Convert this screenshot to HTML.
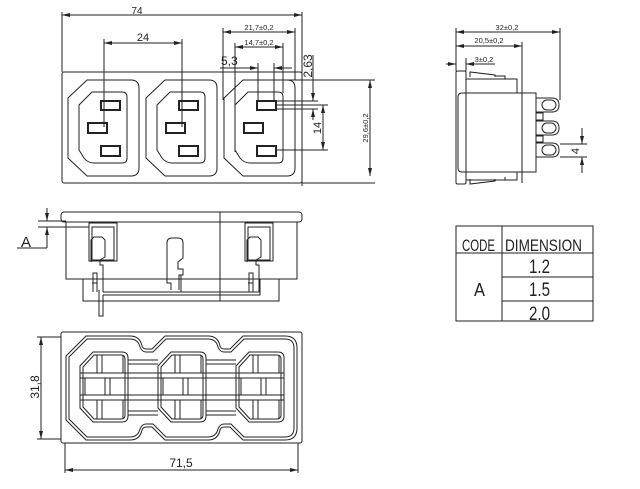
<!DOCTYPE html>
<html><head><meta charset="utf-8"><style>
html,body{margin:0;padding:0;background:#fff;}
svg{display:block;}
text{font-family:"Liberation Sans",sans-serif;fill:#222;}
</style></head><body>
<svg width="640" height="489" viewBox="0 0 640 489" xmlns="http://www.w3.org/2000/svg">
<defs>
<marker id="a" viewBox="0 0 8 4" refX="8" refY="2" markerWidth="8" markerHeight="4" orient="auto-start-reverse" markerUnits="userSpaceOnUse"><path d="M0,0 L8,2 L0,4 z" fill="#222"/></marker>
<g id="sock">
<path d="M0,98 L19,80 L63,80 Q71,80 71,88 L71,168 Q71,176 63,176 L19,176 L0,158 Z"/>
<path d="M11,105 L24,92 L54,92 Q59,92 59,97 L59,158 Q59,163 54,163 L26,163 Q20,163 16,158 L11,150 Z"/>
<rect x="33" y="101" width="19" height="9" stroke-width="2"/>
<rect x="20" y="123" width="19" height="10" stroke-width="2"/>
<rect x="33" y="146" width="19" height="10" stroke-width="2"/>
</g>
<g id="bsock">
<path d="M0,366 L13,352 L42,352 Q48,352 48,358 L48,416 Q48,422 42,422 L13,422 L0,408 Z"/>
<path d="M3,367 L14,355 L41,355 Q45,355 45,359 L45,415 Q45,419 41,419 L14,419 L3,407 Z"/>
<path d="M17,355 V373 M22,355 V373 M43,355 V373 M17,400 V419 M22,400 V419 M43,400 V419 M5,378 V395 M25,378 V395 M30,378 V395 M45,378 V395"/>
</g>
<g id="term">
<rect x="89" y="223" width="28" height="38"/>
<rect x="92" y="227" width="22" height="33"/>
<path d="M91,262 L91,240 L94,237 L102,237 L105,240 L105,257 L100,260 L100,265 L103,265 L103,292"/>
<path d="M93,292 L93,273 L97,273 L97,292 M92,283 H97"/>
</g>
</defs>

<g fill="none" stroke="#222" stroke-width="1">
<!-- FRONT VIEW -->
<rect x="62" y="72" width="240" height="111" rx="2"/>
<use href="#sock" x="68"/>
<use href="#sock" x="146"/>
<use href="#sock" x="224"/>
<!-- 74 -->
<path d="M62,12 V72 M302,12 V186"/>
<path d="M62,15 H302" marker-start="url(#a)" marker-end="url(#a)"/>
<!-- 24 -->
<path d="M104,39 V127 M182,39 V127"/>
<path d="M104,43 H182" marker-start="url(#a)" marker-end="url(#a)"/>
<!-- 21.7 -->
<path d="M223,28 V100 M295,28 V80"/>
<path d="M223,32 H295" marker-start="url(#a)" marker-end="url(#a)"/>
<!-- 14.7 -->
<path d="M235,43 V152 M283,43 V93"/>
<path d="M235,47 H283" marker-start="url(#a)" marker-end="url(#a)"/>
<!-- 5.3 -->
<path d="M258,63 V101 M274,63 V101"/>
<path d="M220,68 H258" marker-end="url(#a)"/>
<path d="M292,68 H274" marker-end="url(#a)"/>
<!-- right extensions -->
<path d="M287,80 H375 M302,183 H375"/>
<path d="M370,80 V176" marker-start="url(#a)" marker-end="url(#a)"/>
<path d="M276,101 H318 M276,105 H328 M276,109 H318 M276,150 H328"/>
<path d="M313,55 V101" marker-end="url(#a)"/>
<path d="M313,120 V109" marker-end="url(#a)"/>
<path d="M323,105 V150" marker-start="url(#a)" marker-end="url(#a)"/>

<!-- RIGHT SIDE VIEW -->
<path d="M456,28 V71 M466,58 V71 M522,42 V183 M560,28 V100"/>
<path d="M456,32 H560" marker-start="url(#a)" marker-end="url(#a)"/>
<path d="M456,46 H522" marker-start="url(#a)" marker-end="url(#a)"/>
<path d="M446,64 H456" marker-end="url(#a)"/>
<path d="M495,64 H466" marker-end="url(#a)"/>
<rect x="456" y="71" width="10" height="113" rx="1.5"/>
<path d="M470,77 L470,72 L495,75 L495,77 M495,76 H505 V79"/>
<path d="M470,179 L470,184 L495,181 L495,179 M495,180 H505 V177"/>
<path d="M466,79 H517 V93 M466,180 H517 V172"/>
<path d="M462,93 H536 V172 H462 Q458,172 458,168 V97 Q458,93 462,93"/>
<path d="M536,98 H552 Q559,98 559,105 Q559,112 552,112 H536 Z"/>
<path d="M536,121 H552 Q559,121 559,128 Q559,135 552,135 H536 Z"/>
<path d="M536,143 H552 Q559,143 559,150 Q559,157 552,157 H536 Z"/>
<rect x="542" y="100" width="14" height="10" rx="5"/>
<rect x="542" y="123" width="14" height="10" rx="5"/>
<rect x="542" y="145" width="14" height="10" rx="5"/>
<rect x="536" y="113" width="7" height="7"/>
<rect x="536" y="136" width="7" height="6"/>
<path d="M560,144 H587 M560,157 H587"/>
<path d="M582,128 V144" marker-end="url(#a)"/>
<path d="M582,173 V157" marker-end="url(#a)"/>

<!-- SIDE ELEVATION -->
<rect x="61" y="212" width="241" height="10" rx="3"/>
<path d="M66,222 V279 H297 V222 M83,279 V301 H279 V279 M220,212 V301"/>
<path d="M38,221 H66 M38,227 H89"/>
<path d="M47,208 V221" marker-end="url(#a)"/>
<path d="M47,248 V227" marker-end="url(#a)"/>
<path d="M17,248 H47"/>
<use href="#term"/>
<use href="#term" x="156"/>
<path d="M171,290 V283 H167 V243 Q167,238 172,238 H178 Q183,238 183,243 V258 L178,262 V269 H183 V275 H179 V290 M181,275 V292"/>
<path d="M103,292 H260 M103,295 H260 V279"/>
<path d="M99,290 V316 H103 V295"/>

<!-- TABLE -->
<rect x="456" y="226" width="137" height="95"/>
<path d="M456,253 H593 M502,226 V321 M502,277 H593 M502,301 H593"/>

<!-- BOTTOM VIEW -->
<rect x="61" y="332" width="241" height="111" rx="2"/>
<path d="M66,356 L86,336 L130,336 Q140,336 142,346 Q143,349 146,349 L152,349 L165,336 L208,336 Q218,336 220,346 Q221,349 224,349 L230,349 L243,336 L285,336 Q297,336 297,348 L297,428 Q297,440 285,440 L243,440 L230,427 L224,427 Q221,427 220,430 Q218,440 208,440 L165,440 L152,427 L146,427 Q143,427 142,430 Q140,440 130,440 L86,440 L66,420 Z"/>
<path d="M69,357 L87,339 L130,339 Q138,339 140,347 Q142,352 146,352 L153,352 L166,339 L208,339 Q216,339 218,347 Q220,352 224,352 L231,352 L244,339 L285,339 Q294,339 294,348 L294,428 Q294,437 285,437 L244,437 L231,424 L224,424 Q220,424 218,429 Q216,437 208,437 L166,437 L153,424 L146,424 Q142,424 140,429 Q138,437 130,437 L87,437 L69,419 Z"/>
<use href="#bsock" x="80"/>
<use href="#bsock" x="158"/>
<use href="#bsock" x="236"/>
<path d="M80,373 H284 M80,378 H284 M80,395 H284 M80,400 H284"/>
<path d="M128,360 H158 M128,364 H158 M206,360 H236 M206,364 H236 M128,411 H158 M128,415 H158 M206,411 H236 M206,415 H236"/>
<path d="M37,337 H61 M37,439 H61"/>
<path d="M41,337 V439" marker-start="url(#a)" marker-end="url(#a)"/>
<path d="M65,443 V473 M298,443 V473"/>
<path d="M65,470 H298" marker-start="url(#a)" marker-end="url(#a)"/>
</g>

<!-- TEXT -->
<text x="137" y="14" font-size="10" text-anchor="middle">74</text>
<text x="143" y="41" font-size="11" text-anchor="middle">24</text>
<text x="221" y="65" font-size="12">5,3</text>
<text x="259" y="30" font-size="7.5" text-anchor="middle">21,7±0,2</text>
<text x="259" y="45" font-size="7.5" text-anchor="middle">14,7±0,2</text>
<text transform="translate(312,66) rotate(-90)" font-size="12" text-anchor="middle">2,63</text>
<text transform="translate(321,128) rotate(-90)" font-size="11" text-anchor="middle">14</text>
<text transform="translate(368,128) rotate(-90)" font-size="7.5" text-anchor="middle">29,6±0,2</text>
<text x="507" y="30" font-size="7.5" text-anchor="middle">32±0,2</text>
<text x="489" y="43" font-size="7.5" text-anchor="middle">20,5±0,2</text>
<text x="484" y="62" font-size="7.5" text-anchor="middle">3±0,2</text>
<text transform="translate(579,151) rotate(-90)" font-size="11" text-anchor="middle">4</text>
<text x="21" y="247" font-size="15">A</text>
<text transform="translate(39,387) rotate(-90)" font-size="12" text-anchor="middle">31,8</text>
<text x="181" y="467" font-size="12" text-anchor="middle">71,5</text>
<text x="462" y="251" font-size="17" textLength="33" lengthAdjust="spacingAndGlyphs">CODE</text>
<text x="505" y="251" font-size="17" textLength="77" lengthAdjust="spacingAndGlyphs">DIMENSION</text>
<text x="529" y="273" font-size="19" textLength="21" lengthAdjust="spacingAndGlyphs">1.2</text>
<text x="529" y="296" font-size="19" textLength="21" lengthAdjust="spacingAndGlyphs">1.5</text>
<text x="529" y="320" font-size="19" textLength="21" lengthAdjust="spacingAndGlyphs">2.0</text>
<text x="474" y="296" font-size="18" textLength="11" lengthAdjust="spacingAndGlyphs">A</text>
</svg>
</body></html>
